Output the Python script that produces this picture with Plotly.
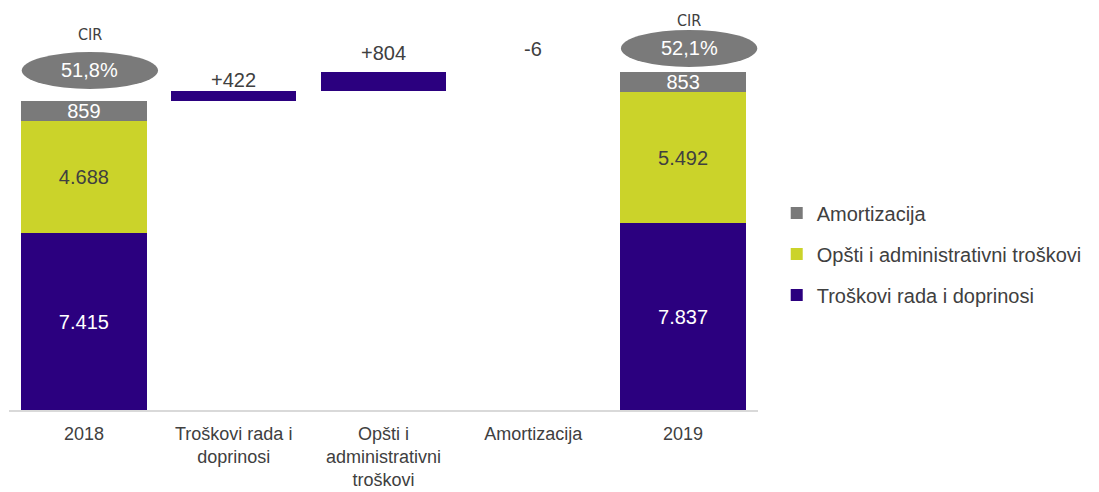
import plotly.graph_objects as go

# ---- data ----
categories = ["2018", "Troškovi rada i<br>doprinosi", "Opšti i<br>administrativni<br>troškovi", "Amortizacija", "2019"]
year_cats = ["2018", "2019"]
rad = [7415, 7837]
opsti = [4688, 5492]
amort = [859, 853]
rad_labels = ["7.415", "7.837"]
opsti_labels = ["4.688", "5.492"]
amort_labels = ["859", "853"]
delta_cats = ["Troškovi rada i<br>doprinosi", "Opšti i<br>administrativni<br>troškovi", "Amortizacija"]
deltas = [422, 804, -6]
delta_labels = ["+422", "+804", "-6"]
cir_values = ["51,8%", "52,1%"]

NAVY = "#2b007f"
GREEN = "#cbd32a"
GREY = "#7a7a7a"
TEXT = "#404040"
FONT = "Liberation Sans, Arial, sans-serif"
NARROW = "Liberation Sans Narrow, Arial Narrow, DejaVu Sans Condensed, sans-serif"
FS = 20

W, H = 1099, 492
ML, MR, MT, MB = 9, 341, 10, 82
plot_h = H - MT - MB
y_max = 16779
u = y_max / plot_h  # data units per pixel

totals = [a + b + c for a, b, c in zip(rad, opsti, amort)]
bases = []
run = totals[0]
for d in deltas:
    bases.append(run if d >= 0 else run + d)
    run += d

fig = go.Figure()
common = dict(textposition="inside", insidetextanchor="middle", constraintext="none",
              marker_line_width=0, hoverinfo="x+y")
fig.add_trace(go.Bar(x=year_cats, y=rad, name="Troškovi rada i doprinosi", marker_color=NAVY,
                     text=rad_labels, textfont=dict(color="white", size=FS, family=FONT),
                     legendgroup="a", legendrank=3, **common))
fig.add_trace(go.Bar(x=year_cats, y=opsti, name="Opšti i administrativni troškovi", marker_color=GREEN,
                     text=opsti_labels, textfont=dict(color=TEXT, size=FS, family=FONT),
                     legendgroup="b", legendrank=2, **common))
fig.add_trace(go.Bar(x=year_cats, y=amort, name="Amortizacija", marker_color=GREY,
                     text=amort_labels, textfont=dict(color="white", size=FS, family=FONT),
                     legendgroup="c", legendrank=1, **common))
# floating change bars (decreases are too thin to be seen in the original)
delta_colors = [NAVY if d >= 0 else "rgba(0,0,0,0)" for d in deltas]
fig.add_trace(go.Bar(x=delta_cats, y=[abs(d) for d in deltas], base=bases, marker_color=delta_colors,
                     showlegend=False, marker_line_width=0, hoverinfo="skip"))

annotations = []
shapes = []
# delta labels
delta_shift_px = [-2, 6, 10]
for c, b, d, lab, s in zip(delta_cats, bases, deltas, delta_labels, delta_shift_px):
    top = b + abs(d)
    annotations.append(dict(x=c, y=top, text=lab, showarrow=False, yanchor="bottom", yshift=s,
                            font=dict(size=FS, color=TEXT, family=FONT)))

# CIR ellipses
ellipse_gap_px = [12, 5]
cir_gap_px = [17, 9]
cat_index = [0, 4]
for i, (ci, tot, val) in enumerate(zip(cat_index, totals, cir_values)):
    y0 = tot + ellipse_gap_px[i] * u
    y1 = y0 + 37 * u
    xc = ci + 0.04
    shapes.append(dict(type="circle", xref="x", yref="y", x0=xc - 0.455, x1=xc + 0.455,
                       y0=y0, y1=y1, fillcolor=GREY, line=dict(width=0), layer="above"))
    annotations.append(dict(x=xc, y=(y0 + y1) / 2, text=val, showarrow=False,
                            font=dict(size=FS, color="white", family=FONT)))
    annotations.append(dict(x=xc, y=y1 + cir_gap_px[i] * u, text="CIR", showarrow=False,
                            font=dict(size=16, color=TEXT, family=NARROW)))

fig.update_layout(
    width=W, height=H,
    margin=dict(l=ML, r=MR, t=MT, b=MB, autoexpand=False),
    barmode="stack", bargap=0.164,
    plot_bgcolor="white", paper_bgcolor="white",
    font=dict(family=FONT, size=FS, color=TEXT),
    xaxis=dict(categoryorder="array", categoryarray=categories, showline=True, linecolor="#d9d9d9",
               linewidth=2, ticks="", tickfont=dict(size=18, color=TEXT), showgrid=False, zeroline=False,
               ticklabelstandoff=6, automargin=False),
    yaxis=dict(range=[0, y_max], visible=False, automargin=False),
    legend=dict(x=1.025, xanchor="left", y=0.39, yanchor="middle", traceorder="grouped",
                tracegroupgap=12, font=dict(size=FS, color=TEXT), bgcolor="rgba(0,0,0,0)"),
    shapes=shapes, annotations=annotations,
    showlegend=True,
)

fig.write_html("out.html")
